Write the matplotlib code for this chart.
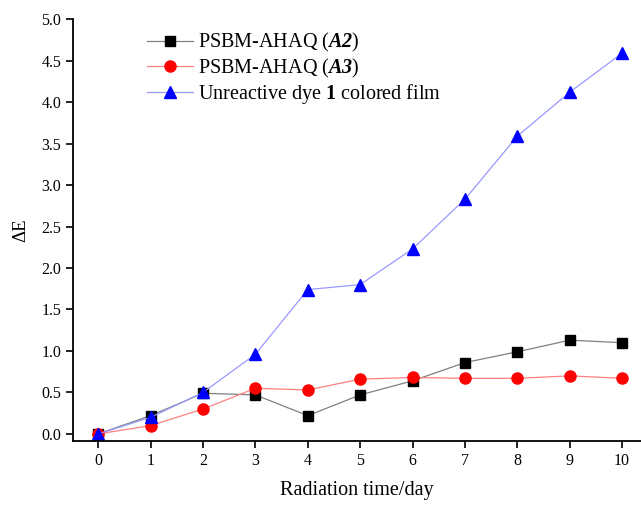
import numpy as np
import matplotlib
matplotlib.use('Agg')
import matplotlib.pyplot as plt

plt.rcParams['font.family'] = 'Liberation Serif'
plt.rcParams['mathtext.fontset'] = 'custom'
plt.rcParams['mathtext.sf'] = 'Liberation Serif:italic:bold'
plt.rcParams['mathtext.bf'] = 'Liberation Serif:bold'
plt.rcParams['mathtext.rm'] = 'Liberation Serif'

days = list(range(11))
a2 = [0.0, 0.22, 0.49, 0.47, 0.22, 0.47, 0.64, 0.86, 0.99, 1.13, 1.10]
a3 = [0.0, 0.10, 0.30, 0.55, 0.53, 0.66, 0.68, 0.67, 0.67, 0.70, 0.67]
dye = [0.0, 0.20, 0.50, 0.96, 1.74, 1.80, 2.23, 2.83, 3.59, 4.12, 4.59]

fig = plt.figure(figsize=(6.41, 5.05), dpi=100)
ax = fig.add_axes([0.114, 0.127, 0.886, 0.835])

ax.plot(days, a2, color='#808080', lw=0.9, marker='s', ms=6.5, mfc='black', mec='black',
        label='PSBM-AHAQ ($\\mathsf{A2}$)')
ax.plot(days, a3, color='#ff8080', lw=0.9, marker='o', ms=8, mfc='red', mec='red',
        label='PSBM-AHAQ ($\\mathsf{A3}$)')
ax.plot(days, dye, color='#9999ff', lw=0.9, marker='^', ms=8, mfc='blue', mec='blue',
        label='Unreactive dye $\\mathbf{1}$ colored film')

ax.set_xlim(-0.48, 10.36)
ax.set_ylim(-0.084, 5.0)
ax.set_xticks(days)
ax.set_yticks(np.arange(0, 5.01, 0.5))
ax.set_yticklabels(['%.1f' % v for v in np.arange(0, 5.01, 0.5)])
ax.spines['top'].set_visible(False)
ax.spines['right'].set_visible(False)
for s in ['left', 'bottom']:
    ax.spines[s].set_linewidth(1.3)
ax.tick_params(direction='out', length=5, width=1.2, labelsize=11.5)

ax.set_xlabel('Radiation time/day', fontsize=14.5, labelpad=9)
ax.set_ylabel('\u0394E', fontsize=13.5, labelpad=9)

ax.legend(loc='upper left', bbox_to_anchor=(0.109, 1.0), frameon=False, fontsize=14.5,
          handlelength=2.3, labelspacing=0.12, handletextpad=0.25, borderpad=0.1)

fig.savefig('out.png', dpi=100)
